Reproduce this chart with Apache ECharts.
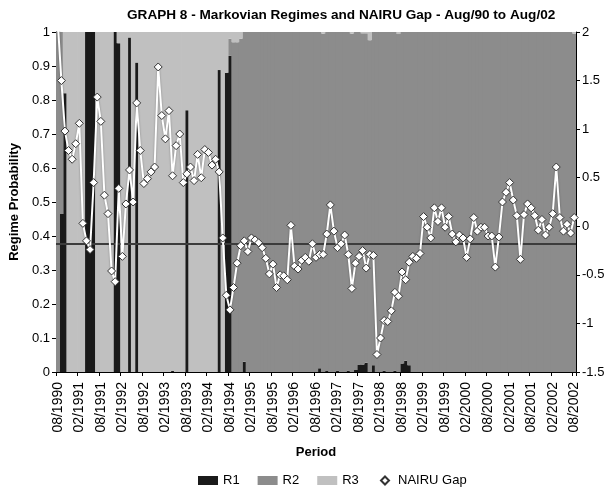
<!DOCTYPE html>
<html>
<head>
<meta charset="utf-8">
<script src="https://cdn.jsdelivr.net/npm/echarts@6/dist/echarts.min.js"></script>
<style>
  html, body { margin: 0; padding: 0; background: #fff; }
  #main { width: 608px; height: 489px; }
</style>
</head>
<body>
<div id="main"></div>
<script>
// monthly, Aug/1990 .. Aug/2002 (one row = Aug..Jul)
var r1 = [
  0, 0.465, 0.82, 0, 0, 0, 0, 0, 1, 1, 1, 0,
  0, 0, 0, 0, 1, 0.967, 0, 0, 0.984, 0, 0.91, 0,
  0, 0, 0, 0, 0, 0, 0, 0, 0.003, 0, 0, 0,
  0.77, 0, 0, 0, 0, 0, 0, 0, 0, 0.888, 0, 0.88,
  0.93, 0, 0, 0, 0.03, 0, 0, 0, 0, 0, 0, 0,
  0, 0, 0, 0, 0, 0, 0, 0, 0, 0, 0, 0,
  0, 0.011, 0, 0.003, 0, 0, 0.004, 0, 0, 0.004, 0, 0.006,
  0.022, 0.022, 0.027, 0, 0.02, 0, 0, 0.004, 0, 0, 0.004, 0,
  0.025, 0.033, 0.02, 0, 0, 0, 0, 0, 0, 0, 0, 0,
  0, 0, 0, 0, 0, 0, 0, 0, 0, 0, 0, 0,
  0, 0, 0, 0, 0, 0, 0, 0, 0, 0, 0, 0,
  0, 0, 0, 0, 0, 0, 0, 0, 0, 0, 0, 0,
  0
];
var r2 = [
  1, 0.535, 0, 0, 0, 0, 0, 0, 0, 0, 0, 0,
  0, 0, 0, 0, 0, 0, 0, 0, 0, 0, 0, 0,
  0, 0, 0, 0, 0, 0, 0, 0, 0, 0, 0, 0,
  0, 0, 0, 0, 0, 0, 0, 0, 0, 0, 0, 0,
  0.05, 0.97, 0.97, 0.98, 0.97, 1, 1, 1, 1, 1, 1, 1,
  1, 1, 1, 1, 1, 1, 1, 1, 1, 1, 1, 1,
  1, 0.989, 0.995, 0.997, 1, 1, 0.996, 1, 1, 0.996, 0.995, 0.994,
  0.978, 0.974, 0.969, 0.976, 0.98, 1, 1, 0.996, 1, 1, 0.996, 0.994,
  0.975, 0.967, 0.98, 1, 1, 1, 1, 1, 1, 1, 1, 1,
  1, 1, 1, 1, 1, 1, 1, 1, 1, 1, 1, 1,
  1, 1, 1, 1, 1, 1, 1, 1, 1, 1, 1, 1,
  1, 1, 1, 1, 1, 1, 1, 1, 1, 1, 1, 1,
  0.995
];
var r3 = [
  0, 0, 0.18, 1, 1, 1, 1, 1, 0, 0, 0, 1,
  1, 1, 1, 1, 0, 0.033, 1, 1, 0.016, 1, 0.09, 1,
  1, 1, 1, 1, 1, 1, 1, 1, 0.997, 1, 1, 1,
  0.23, 1, 1, 1, 1, 1, 1, 1, 1, 0.112, 1, 0.12,
  0.02, 0.03, 0.03, 0.02, 0, 0, 0, 0, 0, 0, 0, 0,
  0, 0, 0, 0, 0, 0, 0, 0, 0, 0, 0, 0,
  0, 0, 0.005, 0, 0, 0, 0, 0, 0, 0, 0.005, 0,
  0, 0.004, 0.004, 0.024, 0, 0, 0, 0, 0, 0, 0, 0.006,
  0, 0, 0, 0, 0, 0, 0, 0, 0, 0, 0, 0,
  0, 0, 0, 0, 0, 0, 0, 0, 0, 0, 0, 0,
  0, 0, 0, 0, 0, 0, 0, 0, 0, 0, 0, 0,
  0, 0, 0, 0, 0, 0, 0, 0, 0, 0, 0, 0,
  0.005
];
var nairuGap = [
  2.1, 1.50, 0.98, 0.78, 0.69, 0.85, 1.06, 0.03, -0.15, -0.24, 0.45, 1.33,
  1.08, 0.32, 0.13, -0.46, -0.57, 0.39, -0.31, 0.23, 0.58, 0.25, 1.27, 0.78,
  0.44, 0.49, 0.56, 0.61, 1.64, 1.14, 0.90, 1.19, 0.52, 0.83, 0.95, 0.45,
  0.54, 0.61, 0.47, 0.74, 0.50, 0.79, 0.76, 0.63, 0.69, 0.56, -0.12, -0.71,
  -0.86, -0.63, -0.38, -0.20, -0.15, -0.26, -0.12, -0.14, -0.17, -0.22, -0.33, -0.49,
  -0.39, -0.63, -0.50, -0.51, -0.55, 0.01, -0.41, -0.44, -0.35, -0.32, -0.36, -0.18,
  -0.32, -0.29, -0.29, -0.08, 0.22, -0.05, -0.22, -0.18, -0.09, -0.29, -0.64, -0.38,
  -0.31, -0.25, -0.43, -0.29, -0.30, -1.32, -1.15, -0.97, -0.98, -0.87, -0.68, -0.72,
  -0.47, -0.55, -0.37, -0.31, -0.33, -0.28, 0.10, -0.01, -0.12, 0.19, 0.05, 0.19,
  -0.01, 0.10, -0.08, -0.16, -0.09, -0.12, -0.32, -0.13, 0.09, -0.05, -0.01, -0.01,
  -0.10, -0.10, -0.42, -0.11, 0.25, 0.35, 0.45, 0.27, 0.11, -0.34, 0.12, 0.23,
  0.19, 0.11, -0.04, 0.07, -0.09, -0.01, 0.13, 0.61, 0.09, -0.05, 0.02, -0.07,
  0.09
];
// horizontal reference line (right axis)
var refLevel = -0.18;

// category labels mm/yyyy
var months = [];
for (var i = 0; i < nairuGap.length; i++) {
  var m = (7 + i) % 12 + 1;
  var y = 1990 + Math.floor((7 + i) / 12);
  months.push((m < 10 ? '0' + m : '' + m) + '/' + y);
}

var font = '"Liberation Sans", Arial, sans-serif';
var chart = echarts.init(document.getElementById('main'));

function barSeries(name, data, color) {
  return {
    name: name,
    type: 'bar',
    stack: 'regime',
    yAxisIndex: 0,
    // a little wider than the category so neighbouring bars overlap (no seams)
    barWidth: 4.4,
    data: data,
    itemStyle: { color: color },
    emphasis: { disabled: true }
  };
}

var option = {
  animation: false,
  textStyle: { fontFamily: font, color: '#000' },
  title: {
    text: 'GRAPH 8 - Markovian Regimes and NAIRU Gap - Aug/90 to Aug/02',
    left: 122,
    top: 3,
    textStyle: { fontFamily: font, fontSize: 13.6, fontWeight: 'bold', color: '#000' }
  },
  legend: [
    {
      data: ['R1', 'R2', 'R3'],
      left: 193,
      top: 469,
      icon: 'rect',
      itemWidth: 20,
      itemHeight: 9,
      itemGap: 18,
      textStyle: { fontFamily: font, fontSize: 13, color: '#000' }
    },
    {
      data: ['NAIRU Gap'],
      left: 375,
      top: 469,
      icon: 'diamond',
      itemWidth: 8,
      itemHeight: 8,
      textStyle: { fontFamily: font, fontSize: 13, color: '#000', padding: [0, 0, 0, 4] }
    }
  ],
  grid: { left: 56, right: 32, top: 32, bottom: 117, outerBoundsMode: 'none' },
  xAxis: {
    type: 'category',
    data: months,
    boundaryGap: true,
    name: 'Period',
    nameLocation: 'middle',
    nameGap: 74,
    nameTextStyle: { fontFamily: font, fontSize: 13, fontWeight: 'bold', color: '#000' },
    axisLine: { show: true, lineStyle: { color: '#000', width: 1 } },
    axisTick: { show: true, interval: 5, length: 4, lineStyle: { color: '#000' } },
    axisLabel: { interval: 5, rotate: 90, fontSize: 14, color: '#000', margin: 10, fontFamily: font },
    splitLine: { show: false }
  },
  yAxis: [
    {
      type: 'value',
      min: 0,
      max: 1,
      interval: 0.1,
      name: 'Regime Probability',
      nameLocation: 'middle',
      nameGap: 34,
      nameTextStyle: { fontFamily: font, fontSize: 13, fontWeight: 'bold', color: '#000' },
      axisLine: { show: true, lineStyle: { color: '#000' } },
      axisTick: { show: true, length: 4, lineStyle: { color: '#000' } },
      axisLabel: { fontSize: 13, color: '#000', margin: 6, fontFamily: font },
      splitLine: { show: false }
    },
    {
      type: 'value',
      position: 'right',
      min: -1.5,
      max: 2,
      interval: 0.5,
      axisLine: { show: true, lineStyle: { color: '#000' } },
      axisTick: { show: true, length: 4, lineStyle: { color: '#000' } },
      axisLabel: { fontSize: 13, color: '#000', margin: 6, fontFamily: font },
      splitLine: { show: false }
    }
  ],
  series: [
    barSeries('R1', r1, '#1a1a1a'),
    barSeries('R2', r2, '#8c8c8c'),
    barSeries('R3', r3, '#c0c0c0'),
    {
      name: 'NAIRU Gap',
      type: 'line',
      yAxisIndex: 1,
      data: nairuGap,
      clip: true,
      symbol: 'diamond',
      symbolSize: 8,
      showAllSymbol: true,
      lineStyle: { color: '#fff', width: 2, shadowColor: 'rgba(0,0,0,0.35)', shadowBlur: 2 },
      itemStyle: { color: '#fff', borderColor: '#333', borderWidth: 1 },
      emphasis: { disabled: true },
      markLine: {
        silent: true,
        symbol: 'none',
        label: { show: false },
        lineStyle: { color: '#3c3c3c', width: 2, type: 'solid' },
        data: [{ yAxis: refLevel }]
      },
      z: 5
    }
  ]
};
chart.setOption(option);
</script>
</body>
</html>
